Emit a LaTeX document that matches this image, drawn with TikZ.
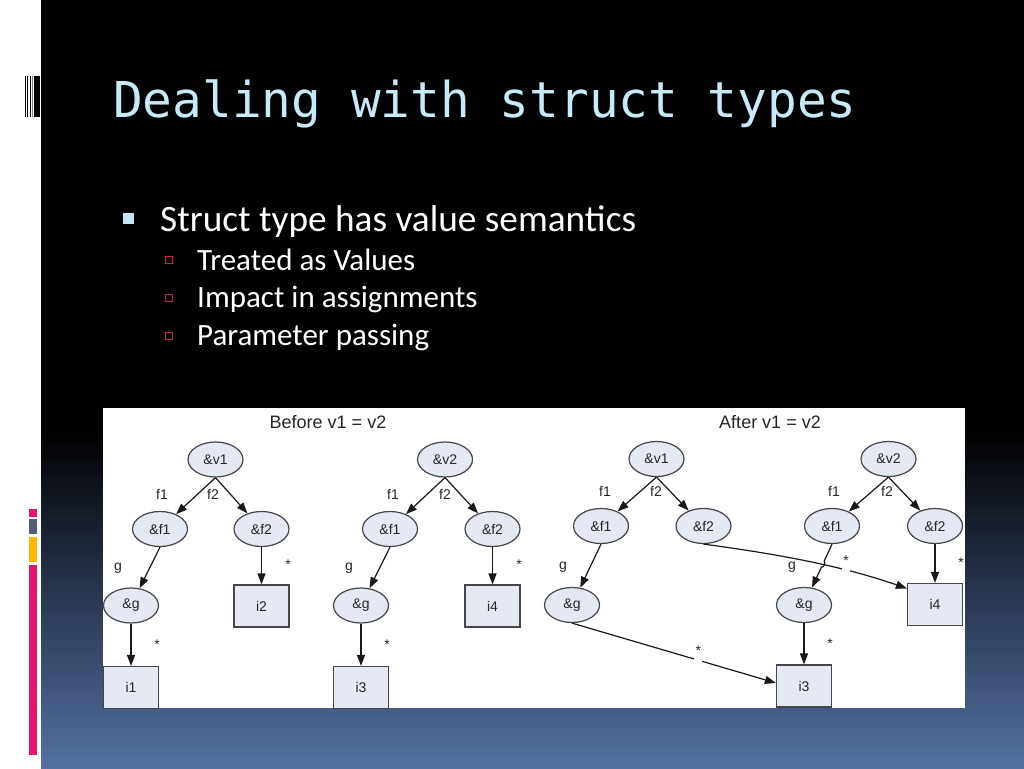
\documentclass[tikz,border=0pt]{standalone}
\usepackage{fontspec}
\setmainfont{Liberation Sans}
\newfontfamily\titlefont{DejaVu Sans Mono}
\newfontfamily\bodyfont{Carlito}
\usetikzlibrary{shapes.geometric,arrows.meta,calc}
\definecolor{titleblue}{RGB}{198,234,248}
\definecolor{nodefill}{RGB}{228,233,244}
\definecolor{nodedraw}{RGB}{70,70,70}
\definecolor{barpink}{RGB}{226,22,112}
\definecolor{bargray}{RGB}{84,94,114}
\definecolor{barorange}{RGB}{255,184,0}
\definecolor{bulletblue}{RGB}{200,228,246}
\definecolor{subpink}{RGB}{200,30,90}
\definecolor{bgmid}{RGB}{26,37,58}
\definecolor{bgbot}{RGB}{84,112,162}
\tikzset{
  ell/.style={ellipse, draw=nodedraw, fill=nodefill, line width=1.2pt, minimum width=55pt, minimum height=35pt, inner sep=0pt, font=\fontsize{14}{14}\selectfont, text=black!85},
  box/.style={rectangle, draw=nodedraw, fill=nodefill, line width=1.2pt, minimum width=55pt, minimum height=42pt, inner sep=0pt, font=\fontsize{14}{14}\selectfont, text=black!85},
  edge/.style={line width=1.2pt, draw=black!90, -{Triangle[length=11pt,width=8pt]}},
  elab/.style={inner sep=0pt, font=\fontsize{14}{14}\selectfont, text=black!85},
  gapstar/.style={fill=white, inner sep=0pt, minimum width=8pt, minimum height=5pt, label={[elab, label distance=1pt]above:*}},
  dtitle/.style={inner sep=0pt, font=\fontsize{18}{18}\selectfont, text=black!85},
  bodytext/.style={anchor=base west, inner sep=0pt, text=white},
  subbullet/.style={draw=subpink, line width=1.4pt, minimum size=7pt, inner sep=0pt}
}
\begin{document}
\begin{tikzpicture}[x=1pt,y=-1pt]
\useasboundingbox (0,0) rectangle (1024,768);
% background
\fill[white] (0,0) rectangle (41,768);
\fill[black] (41,0) rectangle (1024,768);
\shade[top color=black, middle color=bgmid, bottom color=bgbot] (41,430) rectangle (1024,768);
% barcode
\fill[black] (25,76) rectangle (26,117);
\fill[black] (27.3,76) rectangle (28.3,117);
\fill[black] (29.5,76) rectangle (30.8,117);
\fill[gray] (31.8,76) rectangle (33,117);
\fill[black] (34.2,76) rectangle (39.5,117);
% side bars
\fill[barpink] (28.7,509) rectangle (36.7,517);
\fill[bargray] (28.7,519) rectangle (36.7,534);
\fill[barorange] (28.7,537) rectangle (36.7,562);
\fill[barpink] (28.7,565) rectangle (36.7,755);
% title
\node[anchor=base west, inner sep=0pt, text=titleblue, font=\titlefont\fontsize{49.4}{50}\selectfont] (title) at (113,117) {Dealing with struct types};
% bullets
\node[fill=bulletblue, minimum size=11pt, inner sep=0pt] (m1) at (128.5,218.5) {};
\node[bodytext, font=\bodyfont\fontsize{37.3}{40}\selectfont] (b1) at (160,231) {Struct type has value semantics};
\node[subbullet] (s1) at (169,260) {};
\node[subbullet] (s2) at (169,298) {};
\node[subbullet] (s3) at (169,336) {};
\node[bodytext, font=\bodyfont\fontsize{31}{34}\selectfont] (t1) at (197,270) {Treated as Values};
\node[bodytext, font=\bodyfont\fontsize{31}{34}\selectfont] (t2) at (197,307) {Impact in assignments};
\node[bodytext, font=\bodyfont\fontsize{31}{34}\selectfont] (t3) at (197,345) {Parameter passing};
% diagram panel
\fill[white] (103,408) rectangle (965,708);
\node[dtitle] (before) at (328,422) {Before v1 = v2};
\node[dtitle] (after) at (770,422) {After v1 = v2};
% ---- before: tree v1
\node[ell] (av1) at (215.5,459.5) {\&v1};
\node[ell] (af1) at (160,529) {\&f1};
\node[ell] (af2) at (261.5,529) {\&f2};
\node[ell] (ag) at (131,605.5) {\&g};
\node[box] (ai2) at (261.5,606) {i2};
\node[box] (ai1) at (131,687.5) {i1};
\draw[edge] (av1.south) -- (af1);
\draw[edge] (av1.south) -- (af2);
\draw[edge] (af1.south) -- (ag);
\draw[edge] (af2.south) -- (ai2.north);
\draw[edge] (ag.south) -- (ai1.north);
\node[elab] (al1) at (162,494) {f1};
\node[elab] (al2) at (213,494) {f2};
\node[elab] (al3) at (118,568) {g};
\node[elab] (al4) at (288,565) {*};
\node[elab] (al5) at (157,645) {*};
% ---- before: tree v2
\node[ell] (bv2) at (445,459.5) {\&v2};
\node[ell] (bf1) at (390,529) {\&f1};
\node[ell] (bf2) at (492.5,529) {\&f2};
\node[ell] (bg) at (361,605.5) {\&g};
\node[box] (bi4) at (492.5,606) {i4};
\node[box] (bi3) at (361,687.5) {i3};
\draw[edge] (bv2.south) -- (bf1);
\draw[edge] (bv2.south) -- (bf2);
\draw[edge] (bf1.south) -- (bg);
\draw[edge] (bf2.south) -- (bi4.north);
\draw[edge] (bg.south) -- (bi3.north);
\node[elab] (bl1) at (393,494) {f1};
\node[elab] (bl2) at (445,494) {f2};
\node[elab] (bl3) at (349,568) {g};
\node[elab] (bl4) at (519,565) {*};
\node[elab] (bl5) at (387,645) {*};
% ---- after: tree v1
\node[ell] (cv1) at (656.5,459) {\&v1};
\node[ell] (cf1) at (601,526) {\&f1};
\node[ell] (cf2) at (703.5,526) {\&f2};
\node[ell] (cg) at (572,605) {\&g};
% ---- after: tree v2
\node[ell] (dv2) at (888.5,459) {\&v2};
\node[ell] (df1) at (832,526) {\&f1};
\node[ell] (df2) at (935,526) {\&f2};
\node[ell] (dg) at (804,605) {\&g};
\node[box] (ci3) at (804,686) {i3};
\node[box] (di4) at (935,604.5) {i4};
\draw[edge] (cv1.south) -- (cf1);
\draw[edge] (cv1.south) -- (cf2);
\draw[edge] (cf1.south) -- (cg);
\draw[edge] (cg.south) -- node[pos=0.62, gapstar] {} ([yshift=3pt]ci3.west);
\draw[edge] (cf2.south) .. controls (770,553) and (840,565) .. node[pos=0.7, gapstar] {} ([yshift=16pt]di4.west);
\draw[edge] (dv2.south) -- (df1);
\draw[edge] (dv2.south) -- (df2);
\draw[edge] (df1.south) -- ($(df1.south)!0.28!(dg)$) to[bend left=70] ($(df1.south)!0.38!(dg)$) -- (dg);
\draw[edge] (dg.south) -- (ci3.north);
\draw[edge] (df2.south) -- (di4.north);
\node[elab] (cl1) at (605,491) {f1};
\node[elab] (cl2) at (656,491) {f2};
\node[elab] (cl3) at (563,567) {g};
\node[elab] (dl1) at (834,491) {f1};
\node[elab] (dl2) at (887,491) {f2};
\node[elab] (dl3) at (792,567) {g};
\node[elab] (dl4) at (830,644) {*};
\node[elab] (dl5) at (961,563) {*};
\end{tikzpicture}
\end{document}
